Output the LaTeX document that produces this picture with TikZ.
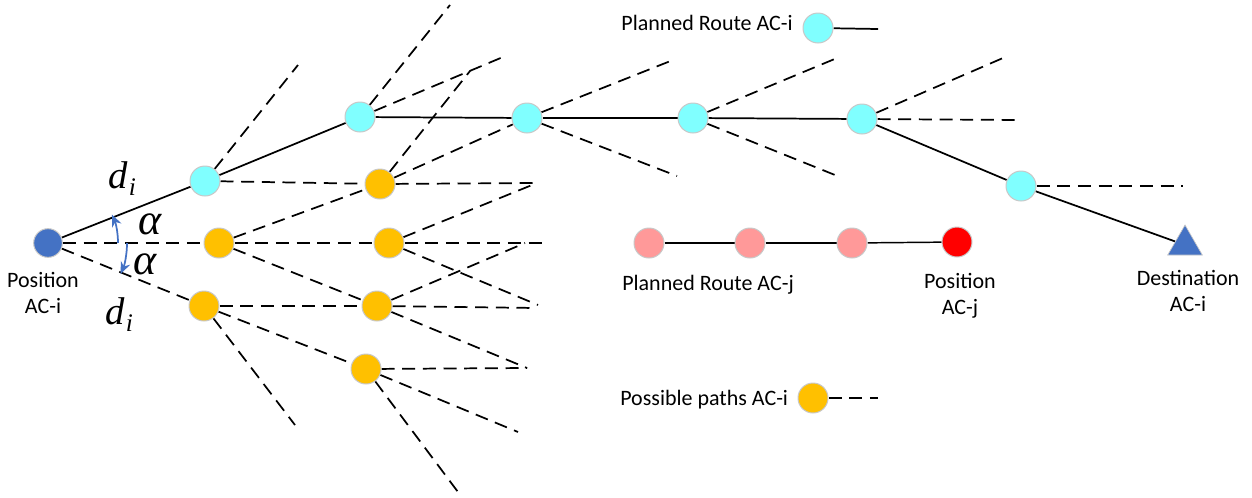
\documentclass[tikz,border=0pt]{standalone}
\usepackage{fontspec}
\setmainfont{Carlito}
\newfontfamily\greekfont{Liberation Serif}
\usetikzlibrary{shapes.geometric,backgrounds,arrows.meta}

\definecolor{routecyan}{RGB}{128,255,255}
\definecolor{pathorange}{RGB}{255,192,0}
\definecolor{posblue}{RGB}{68,114,196}
\definecolor{routepink}{RGB}{255,153,153}
\definecolor{posred}{RGB}{255,0,0}
\definecolor{rim}{RGB}{200,200,200}

\begin{document}
\begin{tikzpicture}[x=0.75pt,y=-0.75pt,
  wp/.style={circle, draw=rim, line width=0.75pt, minimum size=22.5pt, inner sep=0pt},
  cyanwp/.style={wp, fill=routecyan},
  orangewp/.style={wp, fill=pathorange},
  pinkwp/.style={wp, fill=routepink},
  redwp/.style={wp, fill=posred},
  bluewp/.style={wp, fill=posblue, minimum size=21.5pt},
  goal/.style={regular polygon, regular polygon sides=3, fill=posblue, draw=rim,
    line width=0.5pt, minimum size=30pt, inner sep=0pt},
  route/.style={draw=black, line width=1.3pt},
  jroute/.style={draw=black, line width=1.1pt},
  alt/.style={draw=black, line width=1.3pt, dash pattern=on 9.75pt off 5.75pt},
  lbl/.style={font=\fontsize{16.5}{19.5}\selectfont, inner sep=0pt, align=center},
  sym/.style={font=\greekfont\itshape\fontsize{29}{29}\selectfont, inner sep=0pt},
  greek/.style={font=\greekfont\itshape\fontsize{33}{33}\selectfont, inner sep=0pt},
  angmark/.style={draw=posblue, line width=1.3pt, -{Stealth[length=9pt,width=7.5pt]}}
]
\useasboundingbox (0,0) rectangle (1252,497);

% aircraft i: start position, planned route and destination
\node[bluewp]  (P)  at (48,243)  {};
\node[cyanwp]  (C1) at (205,181) {};
\node[cyanwp]  (C2) at (360,117) {};
\node[cyanwp]  (C3) at (527,118) {};
\node[cyanwp]  (C4) at (693,118) {};
\node[cyanwp]  (C5) at (862,119) {};
\node[cyanwp]  (C6) at (1021,186) {};
\node[goal]    (D)  at (1185,245) {};

% candidate waypoints of the possible paths
\node[orangewp] (O1) at (380,184) {};
\node[orangewp] (O2) at (219,243) {};
\node[orangewp] (O3) at (389,243) {};
\node[orangewp] (O4) at (204,306) {};
\node[orangewp] (O5) at (377,306) {};
\node[orangewp] (O6) at (366,369) {};

% aircraft j
\node[pinkwp] (J1) at (649,243) {};
\node[pinkwp] (J2) at (750,243) {};
\node[pinkwp] (J3) at (852,243) {};
\node[redwp]  (J4) at (957,242) {};

% legend symbols
\node[cyanwp]   (LC) at (818,28)  {};
\node[orangewp] (LO) at (813,398) {};
\coordinate (LCend) at (878,29);
\coordinate (LOend) at (878,398);

% free ends of the branch segments
\coordinate (u1)   at (298,65);
\coordinate (u2a)  at (450,5);
\coordinate (u2b)  at (503,57);
\coordinate (o1u)  at (470,71);
\coordinate (o1h)  at (537,183);
\coordinate (c3u)  at (673,60);
\coordinate (c3d)  at (677,176);
\coordinate (c4u)  at (837,58);
\coordinate (c4d)  at (840,177);
\coordinate (c5u)  at (1003,58);
\coordinate (c5h)  at (1022,120);
\coordinate (c6h)  at (1183,186);
\coordinate (o3h)  at (546,243);
\coordinate (o3d)  at (538,305);
\coordinate (o5u)  at (525,243);
\coordinate (o5h)  at (537,308);
\coordinate (o5d)  at (527,368);
\coordinate (o4d)  at (295,425);
\coordinate (o6d)  at (518,432);
\coordinate (o6dd) at (458,492);

\begin{scope}[on background layer]
  % planned route of aircraft i
  \path[route] (P) -- (C1);
  \path[route] (C1) -- (C2);
  \path[route] (C2) -- (C3);
  \path[route] (C3) -- (C4);
  \path[route] (C4) -- (C5);
  \path[route] (C5) -- (C6);
  \path[route] (C6) -- (D);
  % planned route of aircraft j
  \path[jroute] (J1) -- (J2);
  \path[jroute] (J2) -- (J3);
  \path[jroute] (J3) -- (J4);
  % possible paths
  \path[alt] (P) -- (O2);
  \path[alt] (O2) -- (O3);
  \path[alt] (O3) -- (o3h);
  \path[alt] (P) -- (O4);
  \path[alt] (O4) -- (O5);
  \path[alt] (O5) -- (o5h);
  \path[alt] (C1) -- (u1);
  \path[alt] (C1) -- (O1);
  \path[alt] (O1) -- (o1h);
  \path[alt] (O1) -- (o1u);
  \path[alt] (O1) -- (C3);
  \path[alt] (O2) -- (O1);
  \path[alt] (O2) -- (O5);
  \path[alt] (O3) -- (o1h);
  \path[alt] (O3) -- (o3d);
  \path[alt] (O5) -- (o5u);
  \path[alt] (O5) -- (o5d);
  \path[alt] (O4) -- (O6);
  \path[alt] (O4) -- (o4d);
  \path[alt] (O6) -- (o5d);
  \path[alt] (O6) -- (o6d);
  \path[alt] (O6) -- (o6dd);
  \path[alt] (C2) -- (u2a);
  \path[alt] (C2) -- (u2b);
  \path[alt] (C3) -- (c3u);
  \path[alt] (C3) -- (c3d);
  \path[alt] (C4) -- (c4u);
  \path[alt] (C4) -- (c4d);
  \path[alt] (C5) -- (c5u);
  \path[alt] (C5) -- (c5h);
  \path[alt] (C6) -- (c6h);
  % legend lines
  \path[route] (LC) -- (LCend);
  \path[alt] (LO) -- (LOend);
\end{scope}

% branching angle markers
\draw[angmark] (P) ++(0:79) arc[start angle=0, end angle=23, radius=79];
\draw[angmark] (P) ++(0:70) arc[start angle=0, end angle=-24, radius=70];

% segment length and angle symbols
\node[sym, anchor=base west] (d1) at (108,188) {d\kern1pt\raisebox{-0.45ex}{\fontsize{19}{19}\selectfont i}};
\node[sym, anchor=base west] (d2) at (105,324) {d\kern1pt\raisebox{-0.45ex}{\fontsize{19}{19}\selectfont i}};
\node[greek, anchor=base west] (a1) at (138,234) {α};
\node[greek, anchor=base west] (a2) at (133,274) {α};

% labels
\node[lbl] (tP) at (43,293)   {Position\\AC-i};
\node[lbl] (tJ) at (960,296)  {Position\\AC-j};
\node[lbl] (tD) at (1188,291) {Destination\\AC-i};
\node[lbl, anchor=base west] (tRj) at (622,290) {Planned Route AC-j};
\node[lbl, anchor=base east] (tRi) at (793,30)  {Planned Route AC-i};
\node[lbl, anchor=base west] (tPp) at (620,405) {Possible paths AC-i};
\end{tikzpicture}
\end{document}
